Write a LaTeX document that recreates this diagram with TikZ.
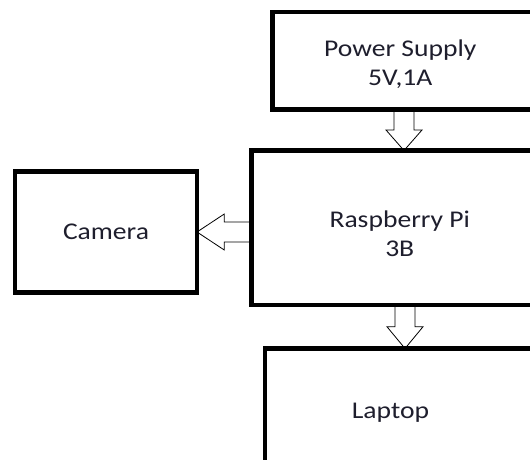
\documentclass[tikz,border=0pt]{standalone}
\usepackage{fontspec}
\setmainfont{Carlito}[FakeStretch=1.15]
\usetikzlibrary{calc}
\definecolor{colText}{RGB}{30,30,45}
\tikzset{
    box/.style={rectangle, draw=black, line width=4.5pt, outer sep=0pt,
        inner sep=0pt, anchor=north west},
    lbl/.style={align=center, font=\fontsize{24}{29}\selectfont, text=colText},
    hollow/.style={line width=0.8pt, line join=miter, to path={
        let \p1=($(\tikztostart)!.5!(\tikztotarget)$) in
        ($(\tikztostart)!10pt!90:(\tikztotarget)$)
        -- ($(\p1)!10pt!90:(\tikztotarget)$)
        -- ($(\p1)!18pt!90:(\tikztotarget)$)
        -- (\tikztotarget)
        -- ($(\p1)!18pt!-90:(\tikztotarget)$)
        -- ($(\p1)!10pt!-90:(\tikztotarget)$)
        -- ($(\tikztostart)!10pt!-90:(\tikztotarget)$)}}
}

\begin{document}
\begin{tikzpicture}[x=1pt, y=-1pt]
    \clip (0,0) rectangle (530,460);

    % blocks, cut off at the right edge
    \node[box, minimum width=287.5pt, minimum height=97.5pt,
        label={[lbl, xshift=-16pt, yshift=-3pt]center:Power Supply\\5V,1A}] (power) at (272.5,12) {};
    \node[box, minimum width=308.5pt, minimum height=154.5pt,
        label={[lbl, xshift=-6pt, yshift=-6pt]center:Raspberry Pi\\3B}] (rpi) at (251.5,150.5) {};
    \node[box, minimum width=182pt, minimum height=121pt,
        label={[lbl]center:Camera}] (camera) at (15,171.5) {};
    \node[box, minimum width=295pt, minimum height=141.5pt,
        label={[lbl, xshift=-22pt, yshift=7pt]center:Laptop}] (laptop) at (265,348.5) {};

    \coordinate (ax) at (404,0);
    \coordinate (bx) at (405,0);
    \coordinate (ay) at (0,232);

    \draw[hollow] (power.south -| ax) to (rpi.north -| ax);
    \draw[hollow] (rpi.west |- ay) to (camera.east |- ay);
    \draw[hollow] (rpi.south -| bx) to (laptop.north -| bx);

\end{tikzpicture}
\end{document}
